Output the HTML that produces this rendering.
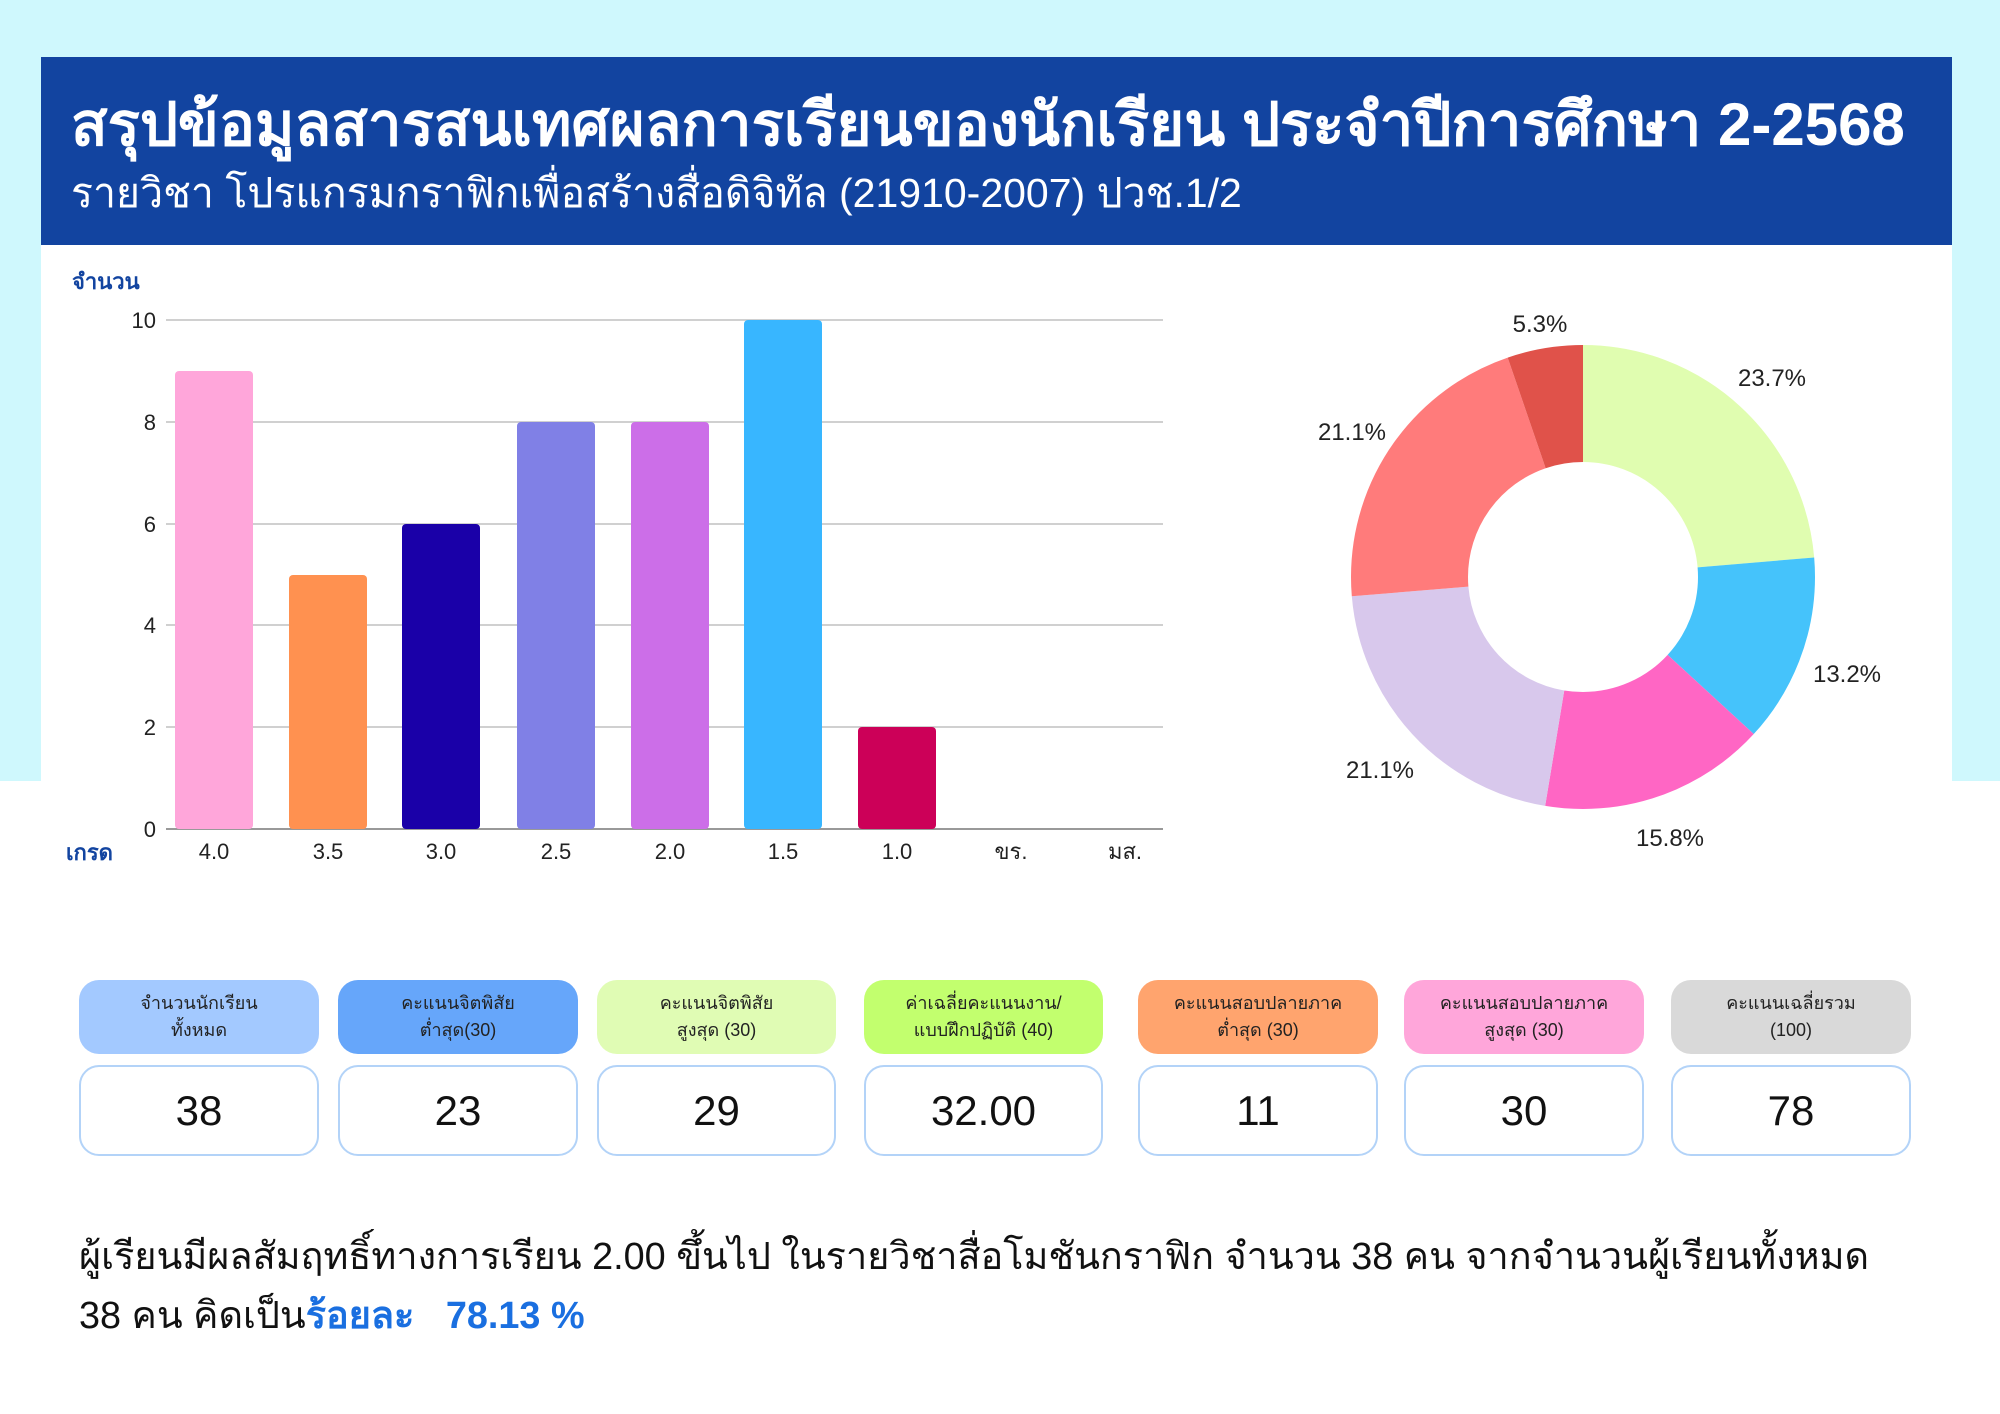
<!DOCTYPE html>
<html><head><meta charset="utf-8"><style>
*{margin:0;padding:0;box-sizing:border-box}
body{width:2000px;height:1414px;position:relative;background:#fff;font-family:"Liberation Sans","Noto Sans CJK SC",sans-serif;overflow:hidden}
.cy{position:absolute;left:0;top:0;width:2000px;height:781px;background:#cff8fd}
.card{position:absolute;left:41px;top:57px;width:1911px;height:1357px;background:#fff}
.hdr{position:absolute;left:41px;top:57px;width:1911px;height:188px;background:#1244a0;color:#fff}
.t1{position:absolute;left:30px;top:20px;font-size:60px;font-weight:bold;white-space:nowrap}
.t2{position:absolute;left:30px;top:104px;font-size:41px;white-space:nowrap}
.abs{position:absolute;white-space:nowrap}
.pill{position:absolute;top:980px;height:74px;border-radius:20px;font-size:18px;color:#222;text-align:center;display:flex;align-items:center;justify-content:center;line-height:27px}
.val{position:absolute;top:1065px;height:91px;border:2px solid #b3d3f8;border-radius:20px;font-size:42px;color:#111;display:flex;align-items:center;justify-content:center}
</style></head><body>
<div class="cy"></div>
<div class="card"></div>
<div class="hdr"><div class="t1">สรุปข้อมูลสารสนเทศผลการเรียนของนักเรียน ประจำปีการศึกษา 2-2568</div><div class="t2">รายวิชา โปรแกรมกราฟิกเพื่อสร้างสื่อดิจิทัล (21910-2007) ปวช.1/2</div></div>

<svg class="abs" style="left:0;top:0" width="2000" height="900">
<g stroke="#d0d0d0" stroke-width="2">
<line x1="166" x2="1163" y1="320" y2="320"/><line x1="166" x2="1163" y1="422" y2="422"/><line x1="166" x2="1163" y1="524" y2="524"/><line x1="166" x2="1163" y1="625" y2="625"/><line x1="166" x2="1163" y1="727" y2="727"/><line x1="166" x2="1163" y1="829" y2="829" stroke="#999"/>
</g>
<g font-size="22" fill="#222" text-anchor="end" font-family="Liberation Sans,sans-serif">
<text x="156" y="328">10</text><text x="156" y="430">8</text><text x="156" y="532">6</text><text x="156" y="633">4</text><text x="156" y="735">2</text><text x="156" y="837">0</text>
</g>
<g>
<rect x="175" y="371" width="78" height="458" rx="4" fill="#ffa6da"/>
<rect x="289" y="575" width="78" height="254" rx="4" fill="#ff9150"/>
<rect x="402" y="524" width="78" height="305" rx="4" fill="#1a00a8"/>
<rect x="517" y="422" width="78" height="407" rx="4" fill="#8080e6"/>
<rect x="631" y="422" width="78" height="407" rx="4" fill="#cc6ee8"/>
<rect x="744" y="320" width="78" height="509" rx="4" fill="#38b6ff"/>
<rect x="858" y="727" width="78" height="102" rx="4" fill="#cc0058"/>
</g>
<g font-size="22" fill="#222" text-anchor="middle">
<text x="214" y="859">4.0</text><text x="328" y="859">3.5</text><text x="441" y="859">3.0</text><text x="556" y="859">2.5</text><text x="670" y="859">2.0</text><text x="783" y="859">1.5</text><text x="897" y="859">1.0</text><text x="1011" y="859">ขร.</text><text x="1125" y="859">มส.</text>
</g>
<text x="72" y="289" font-size="22" font-weight="bold" fill="#1244a0">จำนวน</text>
<text x="66" y="860" font-size="22" font-weight="bold" fill="#1244a0">เกรด</text>
<g transform="translate(1583,577) rotate(-90)" fill="none" stroke-width="117">
<circle r="173.5" stroke="#e0fdb0" stroke-dasharray="257.8 2000" stroke-dashoffset="0"/>
<circle r="173.5" stroke="#45c3fb" stroke-dasharray="143.6 2000" stroke-dashoffset="-257.8"/>
<circle r="173.5" stroke="#ff66c4" stroke-dasharray="171.9 2000" stroke-dashoffset="-401.4"/>
<circle r="173.5" stroke="#d8c8ec" stroke-dasharray="229.5 2000" stroke-dashoffset="-573.3"/>
<circle r="173.5" stroke="#ff7b7b" stroke-dasharray="229.5 2000" stroke-dashoffset="-802.8"/>
<circle r="173.5" stroke="#e0524a" stroke-dasharray="57.8 2000" stroke-dashoffset="-1032.3"/>
</g>
<g font-size="24" fill="#222" text-anchor="middle">
<text x="1540" y="332">5.3%</text><text x="1772" y="386">23.7%</text><text x="1352" y="440">21.1%</text><text x="1847" y="682">13.2%</text><text x="1380" y="778">21.1%</text><text x="1670" y="846">15.8%</text>
</g>
</svg>

<div class="pill" style="left:79px;width:240px;background:#a3c9ff">จำนวนนักเรียน<br>ทั้งหมด</div>
<div class="pill" style="left:338px;width:240px;background:#66a6fa">คะแนนจิตพิสัย<br>ต่ำสุด(30)</div>
<div class="pill" style="left:597px;width:239px;background:#e0fcb4">คะแนนจิตพิสัย<br>สูงสุด (30)</div>
<div class="pill" style="left:864px;width:239px;background:#c2ff6e">ค่าเฉลี่ยคะแนนงาน/<br>แบบฝึกปฏิบัติ (40)</div>
<div class="pill" style="left:1138px;width:240px;background:#ffa46e">คะแนนสอบปลายภาค<br>ต่ำสุด (30)</div>
<div class="pill" style="left:1404px;width:240px;background:#ffa6da">คะแนนสอบปลายภาค<br>สูงสุด (30)</div>
<div class="pill" style="left:1671px;width:240px;background:#d9d9d9">คะแนนเฉลี่ยรวม<br>(100)</div>

<div class="val" style="left:79px;width:240px">38</div>
<div class="val" style="left:338px;width:240px">23</div>
<div class="val" style="left:597px;width:239px">29</div>
<div class="val" style="left:864px;width:239px">32.00</div>
<div class="val" style="left:1138px;width:240px">11</div>
<div class="val" style="left:1404px;width:240px">30</div>
<div class="val" style="left:1671px;width:240px">78</div>

<div class="abs" style="left:79px;top:1228px;font-size:37.8px;color:#111;line-height:59px">ผู้เรียนมีผลสัมฤทธิ์ทางการเรียน 2.00 ขึ้นไป ในรายวิชาสื่อโมชันกราฟิก จำนวน 38 คน จากจำนวนผู้เรียนทั้งหมด<br>38 คน คิดเป็น<b style="color:#1a6fe0">ร้อยละ&nbsp;&nbsp; 78.13 %</b></div>
</body></html>
